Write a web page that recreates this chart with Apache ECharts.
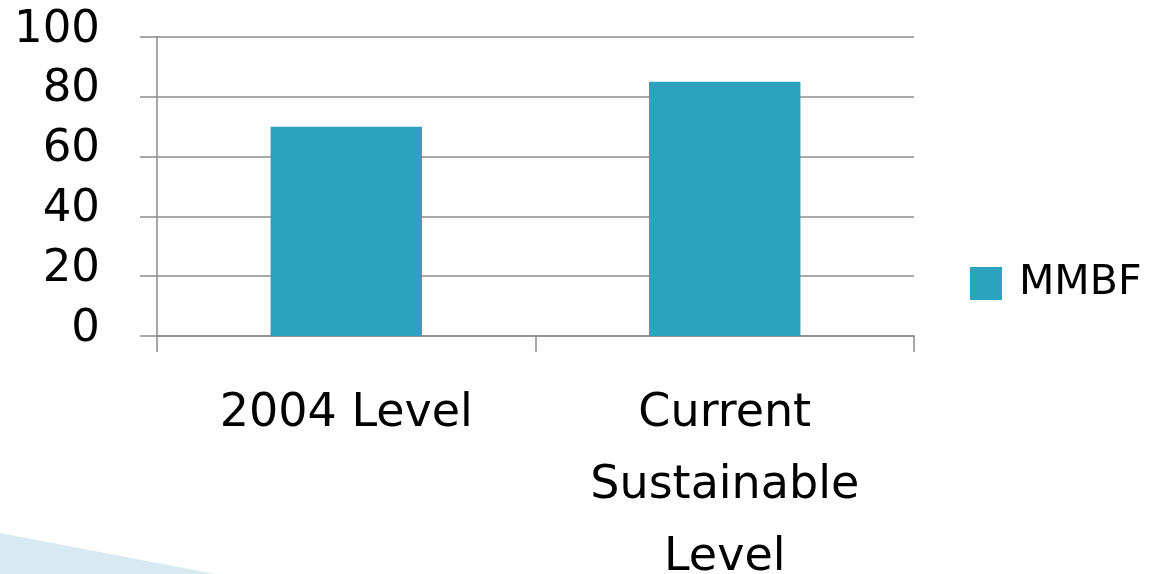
<!DOCTYPE html>
<html><head><meta charset="utf-8">
<script src="https://cdn.jsdelivr.net/npm/echarts@6/dist/echarts.min.js"></script>
<style>html,body{margin:0;padding:0;background:#fff}#c{width:1167px;height:574px}</style>
</head><body><div id="c"></div>
<script>
const categories = ['2004 Level', 'Current\nSustainable\nLevel'];
const seriesName = 'MMBF';
const values = [70, 85];
const yTicks = { min: 0, max: 100, interval: 20 };

const font = 'DejaVu Sans';
const chart = echarts.init(document.getElementById('c'));
chart.setOption({
  backgroundColor: '#fff',
  animation: false,
  graphic: [{
    type: 'polygon', z: -10,
    shape: { points: [[0, 533], [215, 574], [0, 574]] },
    style: { fill: '#d8eaf1' }
  }],
  grid: { left: 157, right: 253, top: 37, bottom: 238, containLabel: false, outerBoundsMode: 'none' },
  legend: {
    data: [seriesName], left: 970, top: 263, padding: 0, itemWidth: 32, itemHeight: 33,
    icon: 'rect', itemGap: 10,
    textStyle: { fontFamily: font, fontSize: 41, color: '#000', padding: [0, 0, 0, 12] }
  },
  xAxis: {
    type: 'category', data: categories,
    axisLine: { lineStyle: { color: '#8c8c8c', width: 1.5 } },
    axisTick: { show: true, length: 16, lineStyle: { color: '#8c8c8c', width: 1.5 } },
    axisLabel: { fontFamily: font, fontSize: 46, color: '#000', margin: 42, lineHeight: 72, interval: 0 }
  },
  yAxis: {
    type: 'value', min: yTicks.min, max: yTicks.max, interval: yTicks.interval,
    axisLine: { show: true, lineStyle: { color: '#8c8c8c', width: 1.5 } },
    axisTick: { show: true, length: 17, lineStyle: { color: '#8c8c8c', width: 1.5 } },
    splitLine: { lineStyle: { color: '#8c8c8c', width: 1.5 } },
    axisLabel: { fontFamily: font, fontSize: 45, color: '#000', margin: 57, verticalAlign: 'bottom', lineHeight: 14 }
  },
  series: [{
    name: seriesName, type: 'bar', data: values, barWidth: '40%',
    itemStyle: { color: '#2da2bf' }
  }]
});
</script></body></html>
